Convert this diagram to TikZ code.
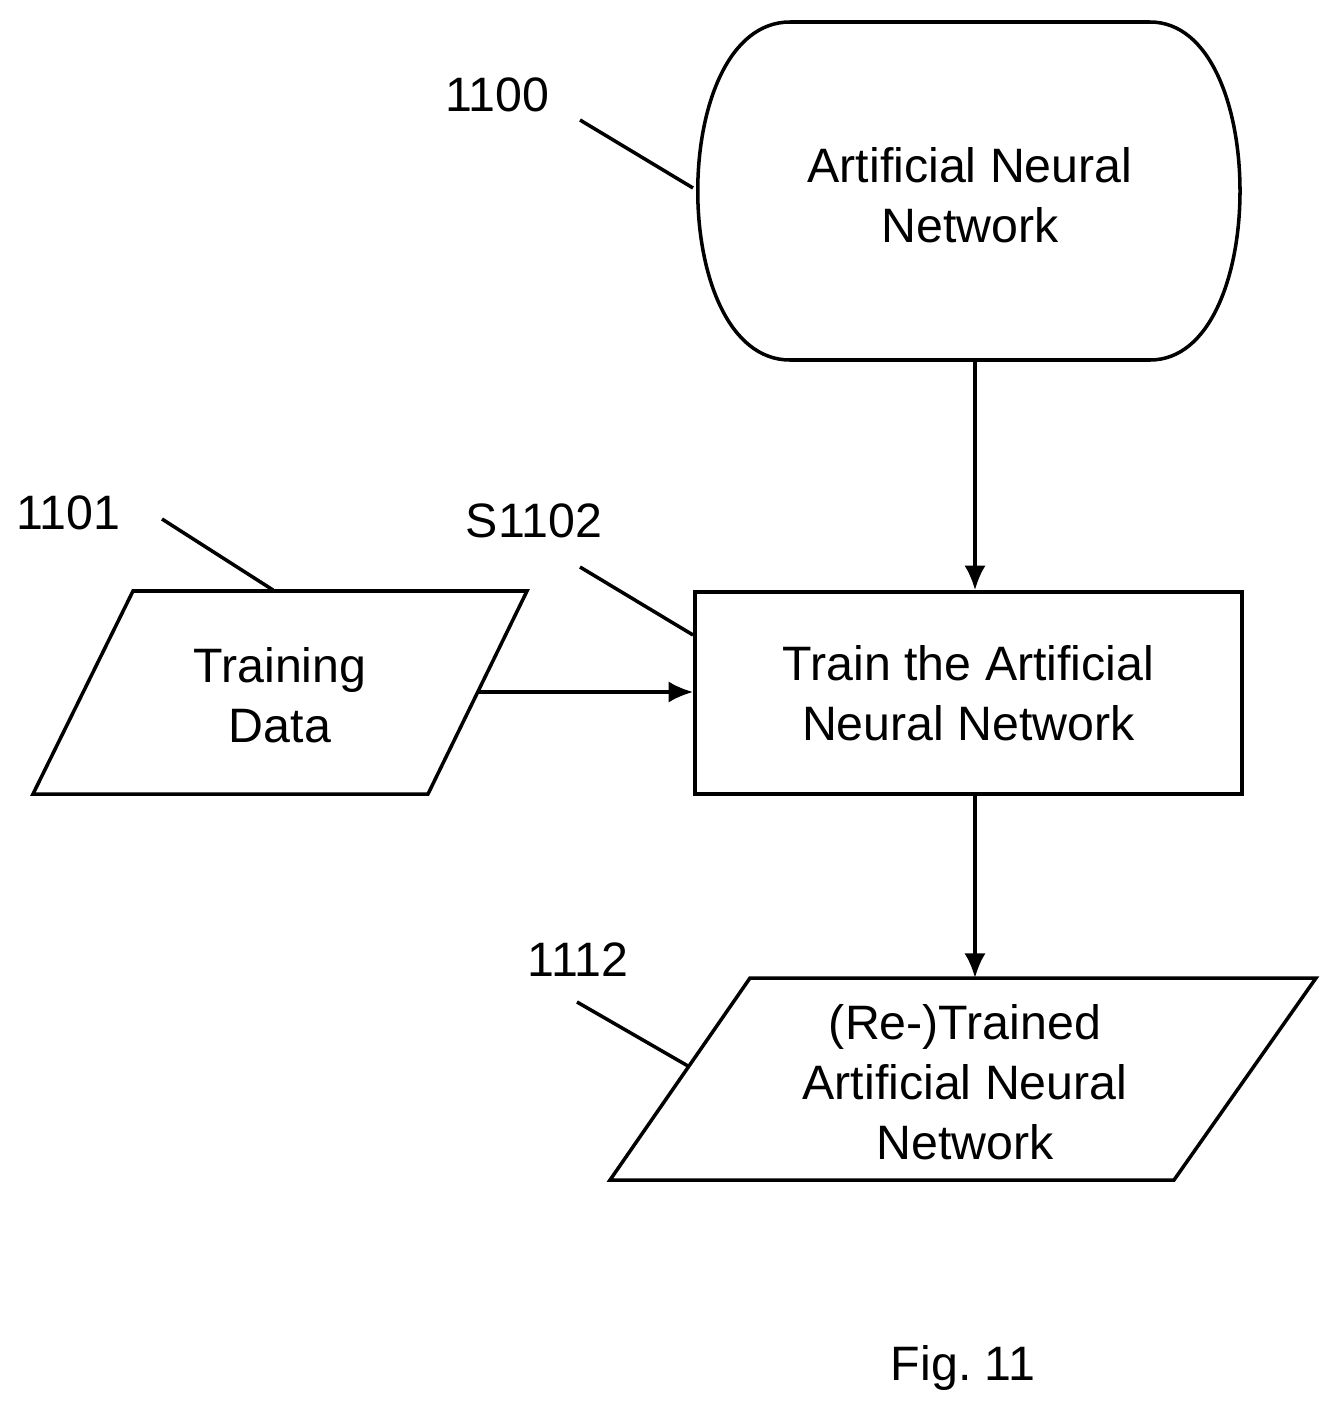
\documentclass[tikz,border=0pt]{standalone}
\usepackage{fontspec}
\setmainfont{Liberation Sans}
\usetikzlibrary{arrows.meta}
\begin{document}
\begin{tikzpicture}[x=0.02cm,y=-0.02cm,
  txt/.style={font=\fontsize{27.5}{34}\selectfont,align=center},
  ln/.style={line width=2pt},
  arr/.style={ln,-{Latex[length=14pt,width=12pt]}}]
\useasboundingbox (0,0) rectangle (1341,1416);
% terminal
\draw[ln] (790,22) -- (1150,22) .. controls (1270,22) and (1270,360) .. (1150,360) -- (790,360) .. controls (667,360) and (667,22) .. (790,22);
\node[txt] (ann) at (970,195) {Artificial Neural\\Network};
\coordinate (annB) at (975,360);
% box
\node[txt,draw,ln,minimum width=547*0.02cm,minimum height=202*0.02cm,inner sep=0] (train) at (968.5,693) {Train the Artificial\\Neural Network};
% training data
\draw[ln] (133,591) -- (527,591) -- (428,794) -- (33,794) -- cycle;
\node[txt] (td) at (280,695) {Training\\Data};
\coordinate (tdR) at (478,692);
% output
\draw[ln] (750,978) -- (1316,978) -- (1174,1180) -- (610,1180) -- cycle;
\node[txt] (out) at (965,1082) {(Re-)Trained\\Artificial Neural\\Network};
\coordinate (outT) at (975,978);
% arrows
\draw[arr] (annB) -- (train.north -| annB);
\draw[arr] (tdR) -- (train.west |- tdR);
\draw[arr] (train.south -| outT) -- (outT);
% labels
\node[txt] (l1100) at (497,95) {1100};
\draw[ln] (580,120) -- (693,188);
\node[txt] (l1101) at (68,513) {1101};
\draw[ln] (162,519) -- (273,590);
\node[txt] (l1102) at (534,521) {S1102};
\draw[ln] (580,567) -- (693,635);
\node[txt] (l1112) at (578,960) {1112};
\draw[ln] (577,1002) -- (688,1066);
\node[txt] (fig) at (963,1368) {Fig.\ 11};
\end{tikzpicture}
\end{document}
